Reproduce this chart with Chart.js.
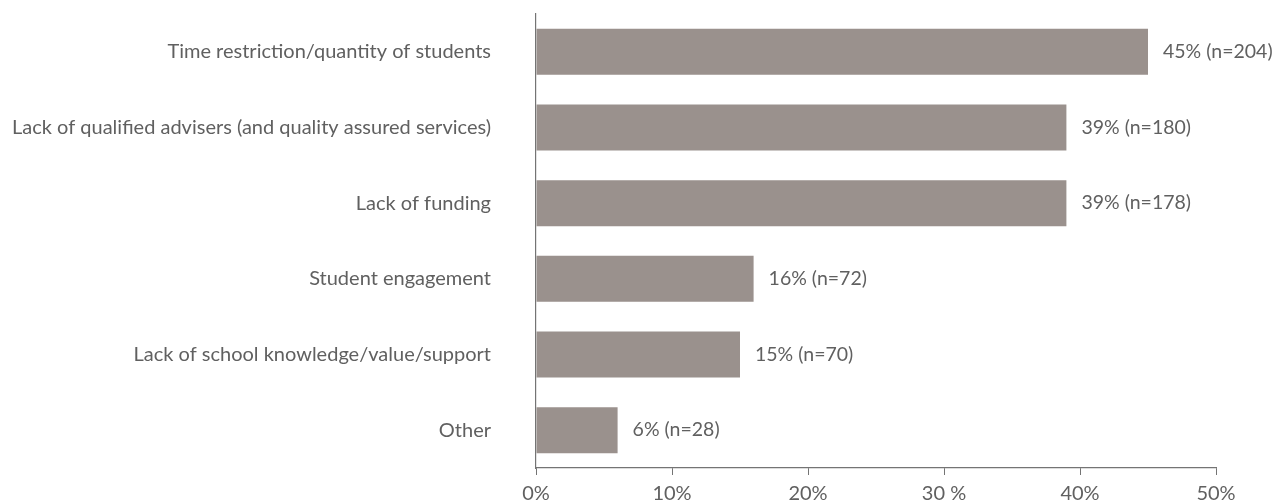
<!DOCTYPE html>
<html>
<head>
<meta charset="utf-8">
<script src="https://cdn.jsdelivr.net/npm/chart.js@4/dist/chart.umd.min.js"></script>
<style>
  html, body { margin: 0; padding: 0; background: #fff; }
  #wrap { width: 1285px; height: 502px; }
</style>
</head>
<body>
<div id="wrap"><canvas id="barChart"></canvas></div>
<script>
// ===== DATA =====
const categories = [
  "Time restriction/quantity of students",
  "Lack of qualified advisers (and quality assured services)",
  "Lack of funding",
  "Student engagement",
  "Lack of school knowledge/value/support",
  "Other"
];
const percents = [45, 39, 39, 16, 15, 6];
const counts = [204, 180, 178, 72, 70, 28];
const xTickLabels = ["0%", "10%", "20%", "30 %", "40%", "50%"];

const TEXT = "#606060";
const AXIS = "#747474";
const FONT = "Lato, 'Open Sans', sans-serif";

// ===== VALUE LABELS AT BAR ENDS =====
const barLabels = {
  id: "barLabels",
  afterDatasetsDraw(chart) {
    const { ctx } = chart;
    const meta = chart.getDatasetMeta(0);
    ctx.save();
    ctx.font = "19.5px " + FONT;
    ctx.fillStyle = TEXT;
    ctx.textAlign = "left";
    ctx.textBaseline = "middle";
    meta.data.forEach((bar, i) => {
      ctx.fillText(`${percents[i]}% (n=${counts[i]})`, bar.x + 15, bar.y);
    });
    ctx.restore();
  }
};

const ctx = document.getElementById("barChart").getContext("2d");
new Chart(ctx, {
  type: "bar",
  data: {
    labels: categories,
    datasets: [{
      data: percents,
      backgroundColor: "#9a918d",
      borderWidth: 0,
      categoryPercentage: 1,
      barPercentage: 0.607
    }]
  },
  options: {
    indexAxis: "y",
    responsive: true,
    maintainAspectRatio: false,
    animation: false,
    layout: { padding: { top: 14, right: 69, bottom: 0, left: 0 } },
    plugins: {
      legend: { display: false },
      tooltip: { enabled: false }
    },
    scales: {
      x: {
        min: 0,
        max: 50,
        ticks: {
          stepSize: 10,
          color: TEXT,
          font: { family: FONT, size: 20 },
          padding: 7,
          callback: (v, i) => xTickLabels[i]
        },
        grid: {
          drawOnChartArea: false,
          drawTicks: true,
          tickLength: 7,
          color: AXIS
        },
        border: { color: AXIS, width: 1.2 },
        afterFit: scale => { scale.height = 34; }
      },
      y: {
        ticks: {
          color: TEXT,
          font: { family: FONT, size: 20 },
          padding: 45
        },
        grid: { display: false, drawTicks: false },
        border: { color: AXIS, width: 1.2 },
        // the large label gap should not push the plot inward vertically
        afterFit: scale => {
          scale.width = 536;
          scale.paddingTop = 0;
          scale.paddingBottom = 0;
        }
      }
    }
  },
  plugins: [barLabels]
});
</script>
</body>
</html>
